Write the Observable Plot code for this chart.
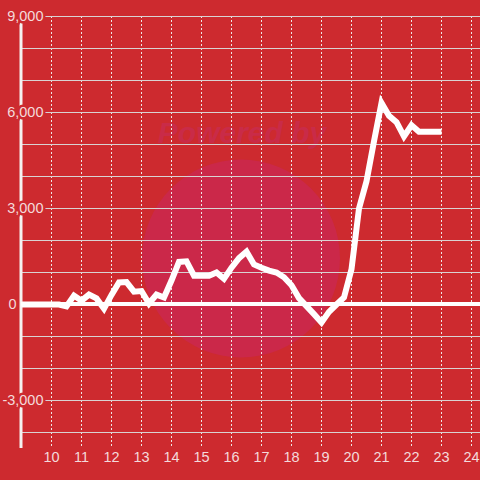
<!DOCTYPE html>
<html>
<head>
<meta charset="utf-8">
<script src="https://cdn.jsdelivr.net/npm/d3@7"></script>
<script src="https://cdn.jsdelivr.net/npm/@observablehq/plot@0.6"></script>
<style>
  html, body { margin: 0; padding: 0; background: #cd2a2f; }
  #chart { width: 480px; height: 480px; }
</style>
</head>
<body>
<div id="chart"></div>
<script>
const times = [9, 9.25, 9.5, 9.75, 10, 10.25, 10.5, 10.75, 11, 11.25, 11.5, 11.75,
  12, 12.25, 12.5, 12.75, 13, 13.25, 13.5, 13.75, 14, 14.25, 14.5, 14.75,
  15, 15.25, 15.5, 15.75, 16, 16.25, 16.5, 16.75, 17, 17.25, 17.5, 17.75,
  18, 18.25, 18.5, 18.75, 19, 19.25, 19.5, 19.75, 20, 20.25, 20.5, 20.75,
  21, 21.25, 21.5, 21.75, 22, 22.25, 22.5, 22.75, 23];
const values = [0, 0, 0, 0, 0, 0, -60, 280, 120, 310, 190, -130,
  300, 690, 700, 400, 420, 30, 310, 220, 750, 1330, 1350, 900,
  900, 900, 1000, 800, 1150, 1450, 1650, 1250, 1150, 1060, 1000, 850,
  600, 200, -50, -300, -560, -230, 0, 220, 1100, 3000, 3850, 5100,
  6300, 5900, 5700, 5250, 5600, 5400, 5400, 5400, 5400];
const xTicks = [10, 11, 12, 13, 14, 15, 16, 17, 18, 19, 20, 21, 22, 23, 24];
const yTicks = [9000, 6000, 3000, 0, -3000];
const yGrid = [9000, 8000, 7000, 6000, 5000, 4000, 3000, 2000, 1000, -1000, -2000, -3000, -4000];
const xDomain = [9, 24.3];
const yDomain = [-4500, 9000];

const bg = "#cd2a2f";
const labelColor = "#f4dadb";
const font = "Liberation Sans, Arial, sans-serif";
const data = times.map((t, i) => ({t, v: values[i]}));
const fmt = d => d.toLocaleString("en-US");

const chart = Plot.plot({
  width: 480,
  height: 480,
  marginLeft: 21,
  marginRight: 0,
  marginTop: 16,
  marginBottom: 32,
  style: {background: bg, fontFamily: font},
  x: {domain: xDomain, axis: null},
  y: {domain: yDomain, axis: null},
  marks: [
    // watermark
    Plot.dot([0], {frameAnchor: "middle", dx: -10, dy: 26, r: 99, fill: "#cb2849", stroke: "none"}),
    Plot.text(["Powered by"], {frameAnchor: "middle", dx: -9, dy: -99, fontSize: 30, fontWeight: "bold", fontStyle: "italic", fill: "#c92b48", letterSpacing: "1.5px"}),
    // grid
    Plot.ruleX(xTicks, {x: d => d, stroke: "#eee6e6", strokeWidth: 1, strokeDasharray: "2,2"}),
    Plot.ruleY(yGrid, {y: d => d, stroke: "#d9d2d2", strokeWidth: 1.2}),
    Plot.ruleX([xDomain[0]], {stroke: "#f5f0f0", strokeWidth: 3, dx: -0.5}),
    Plot.ruleY([0], {stroke: "#ffffff", strokeWidth: 4, dy: -0.5}),
    // data
    Plot.line(data, {x: "t", y: "v", stroke: "#ffffff", strokeWidth: 6, strokeLinejoin: "miter", strokeLinecap: "butt", strokeMiterlimit: 3}),
    // y labels
    Plot.text(yTicks.filter(d => d !== 0), {y: d => d, text: fmt, frameAnchor: "left", dx: 22, textAnchor: "end", fontSize: 14.5, fill: labelColor, stroke: bg, strokeWidth: 5, paintOrder: "stroke"}),
    Plot.text(yTicks.filter(d => d === 0), {y: d => d, text: fmt, frameAnchor: "left", dx: -13, textAnchor: "start", fontSize: 14.5, fill: labelColor, stroke: bg, strokeWidth: 4, paintOrder: "stroke"}),
    // x labels
    Plot.text(xTicks, {x: d => d, text: d => String(d), frameAnchor: "bottom", dy: 13, fontSize: 14.5, fill: labelColor})
  ]
});
document.getElementById("chart").appendChild(chart);
</script>
</body>
</html>
